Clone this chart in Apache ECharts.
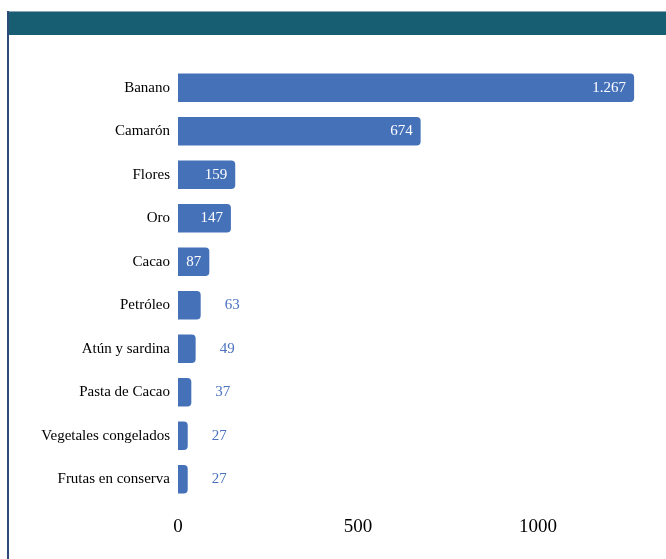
<!DOCTYPE html>
<html>
<head>
<meta charset="utf-8">
<script src="https://cdn.jsdelivr.net/npm/echarts@6/dist/echarts.min.js"></script>
<style>
html,body{margin:0;padding:0;background:#fff;}
#chart{width:666px;height:559px;}
</style>
</head>
<body>
<div id="chart"></div>
<script>
const categories = ["Banano","Camarón","Flores","Oro","Cacao","Petróleo","Atún y sardina","Pasta de Cacao","Vegetales congelados","Frutas en conserva"];
const values = [1267,674,159,147,87,63,49,37,27,27];
const xTicks = [0,500,1000];
const insideThreshold = 80;

const chart = echarts.init(document.getElementById('chart'), null, {renderer:'canvas'});
const fmt = v => String(v).replace(/\B(?=(\d{3})+(?!\d))/g, '.');
const data = values.map(v => ({
  value: v,
  label: v >= insideThreshold
    ? {position:'insideRight', distance:8, color:'#ffffff'}
    : {position:'right', distance:24, color:'#4a72bf'}
}));
chart.setOption({
  animation:false,
  backgroundColor:'#ffffff',
  graphic:[
    {type:'rect', shape:{x:8,y:11,width:660,height:24}, style:{fill:'#175e73'}, z:10},
    {type:'rect', shape:{x:7,y:11,width:660,height:1}, style:{fill:'#8aa3b8'}, z:11},
    {type:'rect', shape:{x:7,y:11,width:2,height:548}, style:{fill:'#2e4a78'}, z:11}
  ],
  grid:{left:178, top:66, width:468, height:435, containLabel:false},
  xAxis:{
    type:'value', min:0, max:1300, interval:500,
    axisLine:{show:false}, axisTick:{show:false}, splitLine:{show:false},
    axisLabel:{showMaxLabel:false, margin:17, fontFamily:'Liberation Serif', fontSize:19, color:'#000',
      formatter:v => xTicks.includes(v) ? String(v) : ''}
  },
  yAxis:{
    type:'category', data:categories, inverse:true,
    axisLine:{show:false}, axisTick:{show:false},
    axisLabel:{margin:8, fontFamily:'Liberation Serif', fontSize:15, color:'#000'}
  },
  series:[{
    type:'bar', data:data, barCategoryGap:'34%',
    itemStyle:{color:'#4571b9', borderRadius:[0,4,4,0]},
    label:{show:true, fontFamily:'Liberation Serif', fontSize:15, formatter:p=>fmt(p.value)}
  }]
});
</script>
</body>
</html>
